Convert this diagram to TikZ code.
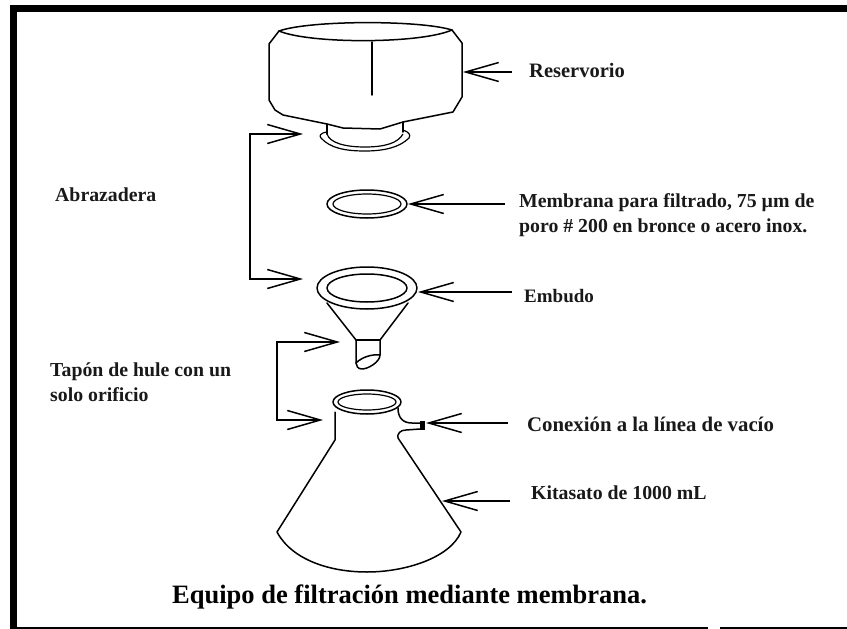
\documentclass[tikz,border=0pt]{standalone}
\usepackage{fontspec}
\setmainfont{Liberation Serif}
\usetikzlibrary{arrows.meta}
\tikzset{
  x=1pt,y=-1pt,
  shape line/.style={line width=1.5pt,line join=round,line cap=round},
  thin shape/.style={line width=1.2pt,line join=round},
  callout/.style={line width=1.5pt,-{Straight Barb[length=33pt,width=19pt,line width=1.5pt]}},
  lbl/.style={anchor=west,inner sep=0pt,font=\bfseries\fontsize{19.8}{25}\selectfont,text=black!90},
  lblm/.style={lbl,align=left},
  border/.style={fill=black,draw=none}
}
\begin{document}
\begin{tikzpicture}
\useasboundingbox (0,0) rectangle (847,629);
\fill[white] (0,0) rectangle (847,629);
% frame
\fill[border] (10,5) rectangle (847,12);
\fill[border] (10,5) rectangle (17,629);
\fill[border] (17,627) rectangle (708,629);
\fill[border] (720,627) rectangle (847,629);
% labels
\node[lbl,font=\bfseries\fontsize{20.5}{25}\selectfont] (res) at (529,70) {Reservorio};
\node[lbl] (abr) at (55,195) {Abrazadera};
\node[lblm] (tap) at (50,382) {Tapón de hule con un\\solo orificio};
\node[lblm] (mem) at (519,215) {Membrana para filtrado, 75 µm de\\poro \# 200 en bronce o acero inox.};
\node[lbl,font=\bfseries\fontsize{19}{25}\selectfont] (emb) at (524,296) {Embudo};
\node[lbl,font=\bfseries\fontsize{20.8}{25}\selectfont] (con) at (527,424) {Conexión a la línea de vacío};
\node[lbl] (kit) at (531,493) {Kitasato de 1000 mL};
\node[anchor=west,inner sep=0pt,font=\bfseries\fontsize{26.5}{30}\selectfont] (tit) at (172,597) {Equipo de filtración mediante membrana.};
% reservoir
\draw[shape line] (279,31) -- (269,44) -- (269,100) -- (275,110) -- (283,115) -- (327,124)
  -- (343,128) -- (380,129) -- (403,122) -- (453,112) -- (462,97) -- (462,43) -- (452,30);
\draw[shape line] (279,31) .. controls (310,20) and (420,20) .. (452,30);
\draw[shape line] (279,31) .. controls (310,44) and (420,44) .. (452,30);
\draw[shape line] (372,42) -- (372,95);
\draw[shape line] (327,124) -- (327,134);
\draw[shape line] (403,122) -- (403,132);
\draw[thin shape] (327,132) .. controls (320,133) and (319,136) .. (321,138) .. controls (330,148) and (345,151) .. (365,151) .. controls (385,151) and (400,147) .. (409,138) .. controls (411,135) and (409,132) .. (403,130);
\draw[thin shape] (327,134) .. controls (330,143) and (345,147) .. (365,147) .. controls (385,147) and (398,143) .. (403,134);
% membrane
\draw[shape line] (367,204) ellipse [x radius=40,y radius=14];
\draw[thin shape] (367,204) ellipse [x radius=34,y radius=10];
% funnel
\draw[shape line] (367,288) ellipse [x radius=50,y radius=21];
\draw[shape line] (367,288) ellipse [x radius=40,y radius=14];
\draw[shape line] (327,303) -- (356,340) -- (356,363);
\draw[shape line] (408,303) -- (380,340) -- (380,355);
\draw[shape line] (356,340) -- (380,340);
\draw[shape line] (356,363) .. controls (362,357) and (372,354) .. (380,355) .. controls (380,362) and (368,369) .. (362,369) .. controls (358,369) and (356,366) .. (356,363) -- cycle;
% flask
\draw[shape line] (367,402) ellipse [x radius=34,y radius=12];
\draw[thin shape] (367,402) ellipse [x radius=29,y radius=8];
\draw[shape line] (335,412) -- (335,440) -- (277,532)
  .. controls (292,560) and (330,572) .. (367,572)
  .. controls (405,572) and (450,558) .. (461,532)
  -- (398,438) .. controls (397,434) and (400,430) .. (406,430) -- (420,429);
\draw[shape line] (398,408) .. controls (398,418) and (403,423) .. (412,423) -- (420,423);
\fill (420,421) rectangle (425,430);
% anchor points on shapes
\coordinate (tipres) at (463,72);
\coordinate (tipcl1) at (303,134);
\coordinate (tipcl2) at (303,279);
\coordinate (tipmem) at (408,204);
\coordinate (tipemb) at (418,292);
\coordinate (tiptp1) at (340,342);
\coordinate (tiptp2) at (323,420);
\coordinate (tipcon) at (426,423);
\coordinate (tipkit) at (442,501);
\coordinate (corcl) at (250,206);
\coordinate (cortp) at (277,381);
\coordinate (tailres) at (512,72);
\coordinate (tailmem) at (505,204);
\coordinate (tailemb) at (512,292);
\coordinate (tailcon) at (508,423);
\coordinate (tailkit) at (510,501);
% connectors
\draw[callout] (tailres) -- (tipres);
\draw[callout] (tailmem) -- (tipmem);
\draw[callout] (tailemb) -- (tipemb);
\draw[callout] (tailcon) -- (tipcon);
\draw[callout] (tailkit) -- (tipkit);
\draw[callout] (corcl) |- (tipcl1);
\draw[callout] (corcl) |- (tipcl2);
\draw[callout] (cortp) |- (tiptp1);
\draw[callout] (cortp) |- (tiptp2);
\end{tikzpicture}
\end{document}
